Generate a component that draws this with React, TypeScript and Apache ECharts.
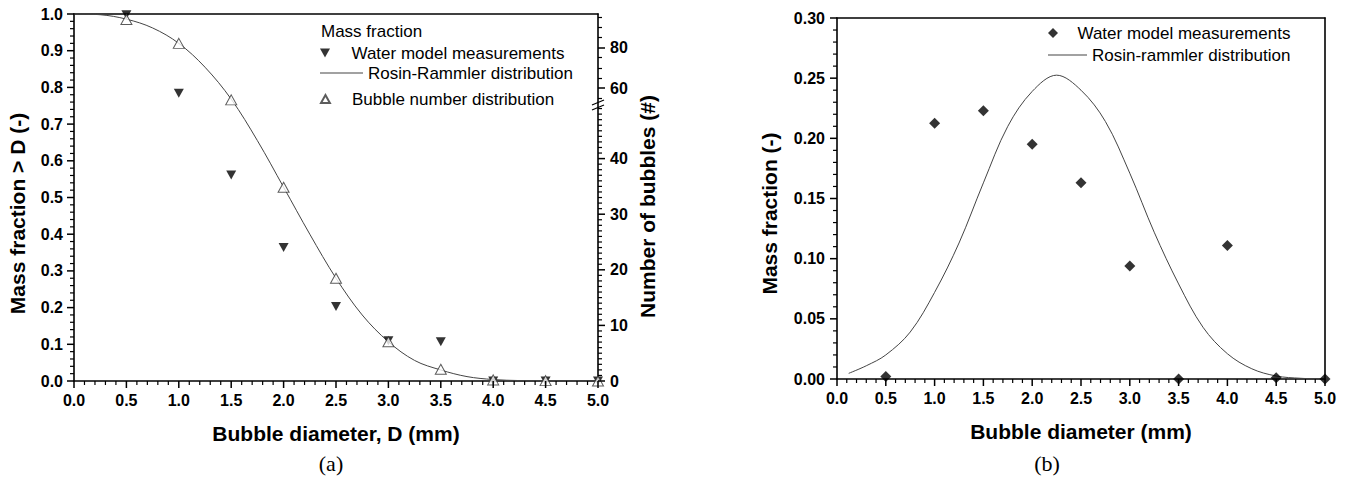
import React, { useEffect, useRef } from "react";
import * as echarts from "echarts";

// ---------- Chart (a): cumulative mass fraction ----------
const waterAX = [0.5, 1.0, 1.5, 2.0, 2.5, 3.0, 3.5, 4.0, 4.5, 5.0];
const waterAY = [0.998, 0.784, 0.561, 0.364, 0.203, 0.11, 0.107, 0.0, 0.0, 0.0];

const numberX = [0.5, 1.0, 1.5, 2.0, 2.5, 3.0, 3.5, 4.0, 4.5, 5.0];
const numberY = [0.985, 0.92, 0.766, 0.528, 0.28, 0.107, 0.032, 0.003, 0.001, 0.0];

const rrAX = [0, 0.25, 0.5, 0.75, 1.0, 1.25, 1.5, 1.75, 2.0, 2.25, 2.5, 2.75, 3.0, 3.25, 3.5, 3.75, 4.0, 4.25, 4.5, 4.75, 5.0];
const rrAY = [1.0, 0.998, 0.986, 0.962, 0.92, 0.855, 0.768, 0.655, 0.528, 0.4, 0.28, 0.18, 0.107, 0.056, 0.03, 0.012, 0.004, 0.0012, 0.0003, 0.0001, 0.0];

// right (broken) axis tick labels, number of bubbles
const bubbleLowerLabels = [0, 10, 20, 30, 40];
const bubbleUpperLabels = [60, 80];
const bubbleUpperMinor = [55, 65, 70, 75, 85, 90, 95];

// ---------- Chart (b): mass fraction distribution ----------
const waterBX = [0.5, 1.0, 1.5, 2.0, 2.5, 3.0, 3.5, 4.0, 4.5, 5.0];
const waterBY = [0.002, 0.2125, 0.223, 0.195, 0.163, 0.094, 0.0, 0.111, 0.001, 0.0];

const rrBX = [0.12, 0.3, 0.5, 0.75, 1.0, 1.25, 1.5, 1.75, 2.0, 2.25, 2.5, 2.75, 3.0, 3.25, 3.5, 3.75, 4.0, 4.25, 4.5, 4.75, 5.0];
const rrBY = [0.0047, 0.011, 0.02, 0.039, 0.072, 0.113, 0.163, 0.21, 0.239, 0.2525, 0.24, 0.214, 0.171, 0.122, 0.079, 0.043, 0.021, 0.0085, 0.0025, 0.0006, 0.0];

const zip = (xs: number[], ys: number[]) => xs.map((x, i) => [x, ys[i]]);

// tick positions (axis decoration only)
const ticks = (min: number, max: number, step: number, skipEvery = 0) => {
  const out: number[] = [];
  const n = Math.round((max - min) / step);
  for (let i = 0; i <= n; i++) {
    if (skipEvery && i % skipEvery === 0) continue;
    out.push(+(min + i * step).toFixed(4));
  }
  return out;
};
const xMajor = ticks(0, 5, 0.5);
const xMinor = ticks(0, 5, 0.1, 5);
const yAMajor = ticks(0, 1, 0.1);
const yAMinor = ticks(0, 1, 0.02, 5);
const yBMajor = ticks(0, 0.3, 0.05);
const yBMinor = ticks(0, 0.3, 0.01, 5);
const bubbleLowerMinor = ticks(0, 50, 1, 10);

const MAJOR_LEN = 7;
const MINOR_LEN = 4;

const FONT = "'Liberation Sans', Arial, sans-serif";
const TRI_DOWN = "path://M0,0L10,0L5,9Z";
const TRI_UP = "path://M5,0L10,9L0,9Z";
const DIAMOND = "path://M5,0L10,5L5,10L0,5Z";
const AXIS_LINE = { show: true, onZero: false, lineStyle: { color: "#000", width: 1.6 } };
const NO_LINE = { show: false, onZero: false };
const NO_TICK = { show: false };
const majorTick = (vals: number[]) => ({ show: true, inside: false, length: MAJOR_LEN, lineStyle: { color: "#000", width: 1.5 }, customValues: vals });
const minorTick = (vals: number[]) => ({ show: true, inside: false, length: MINOR_LEN, lineStyle: { color: "#000", width: 1.2 }, customValues: vals });
const LABEL = { fontFamily: FONT, fontWeight: "bold", fontSize: 16, color: "#000" };
const NAME = { fontFamily: FONT, fontWeight: "bold", fontSize: 21, color: "#000" };
const LEG_TEXT = { fontFamily: FONT, fontSize: 17, color: "#000", lineHeight: 18 };
const NOSPLIT = { show: false };
const NOLABEL = { show: false };

export default function App() {
  const ref = useRef<HTMLDivElement>(null);
  useEffect(() => {
    document.body.style.margin = "0";
    const chart = echarts.init(ref.current!, undefined, { renderer: "svg" });
    const baseGraphic: any[] = [
      {
        type: "text", left: 321, top: 23,
        style: { text: "Mass fraction", fontFamily: FONT, fontSize: 17, fill: "#000" },
      },
      {
        type: "text", x: 331, y: 463,
        style: { text: "(a)", fontFamily: "'Liberation Serif', 'Times New Roman', serif", fontSize: 22, fill: "#000", align: "center", verticalAlign: "middle" },
      },
      {
        type: "text", x: 1047, y: 463,
        style: { text: "(b)", fontFamily: "'Liberation Serif', 'Times New Roman', serif", fontSize: 22, fill: "#000", align: "center", verticalAlign: "middle" },
      },
      { type: "line", shape: { x1: 592, y1: 105, x2: 604, y2: 100 }, style: { stroke: "#000", lineWidth: 1.2 }, z: 10 },
      { type: "line", shape: { x1: 592, y1: 110, x2: 604, y2: 105 }, style: { stroke: "#000", lineWidth: 1.2 }, z: 10 },
    ];
    const option: any = {
      animation: false,
      textStyle: { fontFamily: FONT },
      grid: [
        { left: 74, top: 14, width: 524, height: 367 }, // 0 chart a
        { left: 74, top: 103, width: 524, height: 278 }, // 1 lower right segment
        { left: 74, top: 14, width: 524, height: 89 }, // 2 upper right segment
        { left: 837, top: 18, width: 488, height: 361 }, // 3 chart b
      ],
      xAxis: [
        {
          gridIndex: 0, type: "value", min: 0, max: 5, interval: 0.5, position: "bottom",
          axisLine: AXIS_LINE, axisTick: NO_TICK, splitLine: NOSPLIT,
          axisLabel: { ...LABEL, margin: 11, formatter: (v: number) => v.toFixed(1) },
          name: "Bubble diameter, D (mm)", nameLocation: "middle", nameGap: 42, nameTextStyle: NAME,
        },
        {
          gridIndex: 0, type: "value", min: 0, max: 5, position: "top",
          axisLine: AXIS_LINE, axisTick: NO_TICK, axisLabel: NOLABEL, splitLine: NOSPLIT,
        },
        { gridIndex: 1, type: "value", min: 0, max: 5, show: false, axisLine: NO_LINE },
        { gridIndex: 2, type: "value", min: 0, max: 5, show: false, axisLine: NO_LINE },
        {
          gridIndex: 3, type: "value", min: 0, max: 5, interval: 0.5, position: "bottom",
          axisLine: AXIS_LINE, axisTick: NO_TICK, splitLine: NOSPLIT,
          axisLabel: { ...LABEL, margin: 11, formatter: (v: number) => v.toFixed(1) },
          name: "Bubble diameter (mm)", nameLocation: "middle", nameGap: 42, nameTextStyle: NAME,
        },
        {
          gridIndex: 3, type: "value", min: 0, max: 5, position: "top",
          axisLine: AXIS_LINE, axisTick: NO_TICK, axisLabel: NOLABEL, splitLine: NOSPLIT,
        },
      ],
      yAxis: [
        {
          gridIndex: 0, type: "value", min: 0, max: 1, interval: 0.1, position: "left",
          axisLine: AXIS_LINE, axisTick: NO_TICK, splitLine: NOSPLIT,
          axisLabel: { ...LABEL, margin: 11, formatter: (v: number) => v.toFixed(1) },
          name: "Mass fraction > D (-)", nameLocation: "middle", nameGap: 46,
          nameTextStyle: { ...NAME, padding: [0, 32, 0, 0] },
        },
        {
          gridIndex: 0, type: "value", min: 0, max: 1, position: "right",
          axisLine: AXIS_LINE, axisTick: NO_TICK, axisLabel: NOLABEL, splitLine: NOSPLIT,
          name: "Number of bubbles (#)", nameLocation: "middle", nameGap: 39,
          nameTextStyle: { ...NAME, padding: [0, 18, 0, 0] },
        },
        {
          gridIndex: 1, type: "value", min: 0, max: 50, position: "right",
          axisLine: NO_LINE, splitLine: NOSPLIT, axisTick: NO_TICK,
          axisLabel: { ...LABEL, margin: 12, customValues: bubbleLowerLabels },
        },
        {
          gridIndex: 2, type: "value", min: 52.6, max: 96.6, position: "right",
          axisLine: NO_LINE, splitLine: NOSPLIT,
          axisTick: majorTick(bubbleUpperLabels),
          axisLabel: { ...LABEL, margin: 12, customValues: bubbleUpperLabels },
        },
        {
          gridIndex: 2, type: "value", min: 52.6, max: 96.6, position: "right",
          axisLine: NO_LINE, splitLine: NOSPLIT, axisTick: minorTick(bubbleUpperMinor), axisLabel: NOLABEL,
        },
        {
          gridIndex: 3, type: "value", min: 0, max: 0.3, interval: 0.05, position: "left",
          axisLine: AXIS_LINE, axisTick: NO_TICK, splitLine: NOSPLIT,
          axisLabel: { ...LABEL, margin: 12, formatter: (v: number) => v.toFixed(2) },
          name: "Mass fraction (-)", nameLocation: "middle", nameGap: 57,
          nameTextStyle: { ...NAME, padding: [0, 30, 0, 0] },
        },
        {
          gridIndex: 3, type: "value", min: 0, max: 0.3, position: "right",
          axisLine: AXIS_LINE, axisTick: NO_TICK, axisLabel: NOLABEL, splitLine: NOSPLIT,
        },
      ],
      legend: [
        {
          left: 320, top: 44, padding: 0, itemWidth: 43, itemHeight: 9, selectedMode: false,
          textStyle: LEG_TEXT, data: [{ name: "Water model measurements", icon: TRI_DOWN }],
        },
        {
          left: 320, top: 64, padding: 0, itemWidth: 43, itemHeight: 1, selectedMode: false,
          textStyle: LEG_TEXT, data: [{ name: "Rosin-Rammler distribution", icon: "rect" }],
        },
        {
          left: 320, top: 90, padding: 0, itemWidth: 43, itemHeight: 8, selectedMode: false,
          textStyle: LEG_TEXT, data: [{ name: "Bubble number distribution", icon: TRI_UP }],
        },
        {
          left: 1048, top: 24, padding: 0, itemWidth: 39, itemHeight: 10, selectedMode: false,
          textStyle: LEG_TEXT, data: [{ name: "Water model measurements", icon: DIAMOND }],
        },
        {
          left: 1048, top: 46, padding: 0, itemWidth: 39, itemHeight: 1, selectedMode: false,
          textStyle: LEG_TEXT, data: [{ name: "Rosin-rammler distribution", icon: "rect" }],
        },
      ],
      series: [
        {
          name: "Rosin-Rammler distribution", type: "line", xAxisIndex: 0, yAxisIndex: 0,
          data: zip(rrAX, rrAY), symbol: "none", showSymbol: false, smooth: 0.35,
          lineStyle: { color: "#444", width: 1 }, itemStyle: { color: "#444" }, z: 3,
        },
        {
          name: "Water model measurements", type: "scatter", xAxisIndex: 0, yAxisIndex: 0,
          data: zip(waterAX, waterAY), symbol: TRI_DOWN, symbolSize: [10, 9],
          itemStyle: { color: "#000" }, z: 4,
        },
        {
          name: "Bubble number distribution", type: "scatter", xAxisIndex: 0, yAxisIndex: 0,
          data: zip(numberX, numberY), symbol: "triangle", symbolSize: [11, 10],
          itemStyle: { color: "#fff", borderColor: "#333", borderWidth: 1 }, z: 5,
        },
        {
          name: "Rosin-rammler distribution", type: "line", xAxisIndex: 4, yAxisIndex: 5,
          data: zip(rrBX, rrBY), symbol: "none", showSymbol: false, smooth: 0.35,
          lineStyle: { color: "#444", width: 1 }, itemStyle: { color: "#444" }, z: 3,
        },
        {
          name: "Water model measurements", type: "scatter", xAxisIndex: 4, yAxisIndex: 5,
          data: zip(waterBX, waterBY), symbol: "diamond", symbolSize: 11,
          itemStyle: { color: "#000" }, z: 4,
        },
      ],
      graphic: baseGraphic,
    };
    chart.setOption(option);

    // tick marks positioned through the axes' own scales (convertToPixel)
    const tickLines: any[] = [];
    const addTicks = (
      finder: any, values: number[], len: number, dir: "down" | "left" | "right", fixed: number,
    ) => {
      for (const v of values) {
        const pt = dir === "down" ? [v, fixed] : [fixed, v];
        const c = chart.convertToPixel(finder, pt) as number[];
        if (!c || isNaN(c[0]) || isNaN(c[1])) continue;
        const shape =
          dir === "down" ? { x1: c[0], y1: c[1], x2: c[0], y2: c[1] + len }
          : dir === "left" ? { x1: c[0], y1: c[1], x2: c[0] - len, y2: c[1] }
          : { x1: c[0], y1: c[1], x2: c[0] + len, y2: c[1] };
        tickLines.push({
          type: "line", shape, silent: true, z: 9,
          style: { stroke: "#000", lineWidth: len > 5 ? 1.5 : 1.2 },
        });
      }
    };
    const FA = { xAxisIndex: 0, yAxisIndex: 0 };
    const FN = { xAxisIndex: 2, yAxisIndex: 2 };
    const FB = { xAxisIndex: 4, yAxisIndex: 5 };
    addTicks(FA, xMajor, MAJOR_LEN, "down", 0);
    addTicks(FA, xMinor, MINOR_LEN, "down", 0);
    addTicks(FA, yAMajor, MAJOR_LEN, "left", 0);
    addTicks(FA, yAMinor, MINOR_LEN, "left", 0);
    addTicks(FN, bubbleLowerLabels, MAJOR_LEN, "right", 5);
    addTicks(FN, bubbleLowerMinor, MINOR_LEN, "right", 5);
    addTicks(FB, xMajor, MAJOR_LEN, "down", 0);
    addTicks(FB, xMinor, MINOR_LEN, "down", 0);
    addTicks(FB, yBMajor, MAJOR_LEN, "left", 0);
    addTicks(FB, yBMinor, MINOR_LEN, "left", 0);
    chart.setOption({ graphic: [...baseGraphic, ...tickLines] });

    return () => chart.dispose();
  }, []);
  return <div ref={ref} style={{ width: 1351, height: 479 }} />;
}
